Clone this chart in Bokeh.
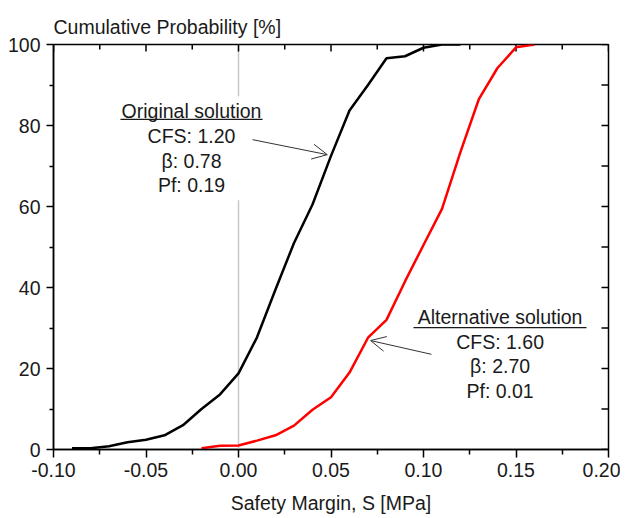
from bokeh.plotting import figure
from bokeh.models import (Range1d, LinearAxis, FixedTicker, NumeralTickFormatter,
                          Span, Label, Arrow, OpenHead)
from bokeh.embed import file_html
from bokeh.resources import INLINE

# ---- data ----
orig_x = [-0.09, -0.08, -0.07, -0.06, -0.05, -0.04, -0.03, -0.02, -0.01, 0.00, 0.01,
          0.02, 0.03, 0.04, 0.05, 0.06, 0.07, 0.08, 0.09, 0.10, 0.11, 0.12]
orig_y = [0.3, 0.3, 0.8, 1.8, 2.4, 3.5, 6.0, 10.0, 13.6, 18.8, 27.7,
          39.5, 51.0, 60.5, 72.5, 83.7, 90.0, 96.6, 97.1, 99.2, 100.0, 100.0]

alt_x = [-0.02, -0.01, 0.00, 0.01, 0.02, 0.03, 0.04, 0.05, 0.06, 0.07, 0.08,
         0.09, 0.10, 0.11, 0.12, 0.13, 0.14, 0.15, 0.16]
alt_y = [0.3, 0.9, 1.0, 2.2, 3.5, 5.9, 9.8, 12.9, 19.0, 27.6, 32.0,
         41.5, 50.5, 59.4, 73.5, 86.6, 94.2, 99.3, 100.0]

x_ticks = [-0.10, -0.05, 0.00, 0.05, 0.10, 0.15, 0.20]
x_minor = [-0.075, -0.025, 0.025, 0.075, 0.125, 0.175]
y_ticks = [0, 20, 40, 60, 80, 100]
y_minor = [10, 30, 50, 70, 90]

orig_text = "Original solution\nCFS: 1.20\nβ: 0.78\nPf: 0.19"
alt_text = "Alternative solution\nCFS: 1.60\nβ: 2.70\nPf: 0.01"

FONT = "Liberation Sans"
FS = "19.5px"
TXT = "#1a1a1a"

X0, X1, Y0, Y1 = -0.10, 0.20, 0, 100
FRAME_W, FRAME_H = 555, 405   # frame size in px (for tick lengths)

p = figure(width=620, height=518, output_backend="svg", toolbar_location=None,
           x_range=Range1d(X0, X1), y_range=Range1d(Y0, Y1),
           min_border_left=53, min_border_right=12, min_border_top=44,
           min_border_bottom=69, x_axis_type=None, y_axis_type=None)
p.outline_line_color = "black"
p.outline_line_width = 1.5
p.background_fill_color = "white"
p.border_fill_color = "white"

p.title.text = "Cumulative Probability [%]"
p.title.align = "left"
p.title.text_font = FONT
p.title.text_font_size = FS
p.title.text_font_style = "normal"
p.title.text_color = TXT
p.title.offset = 0
p.title.standoff = 13

xt = FixedTicker(ticks=x_ticks, minor_ticks=x_minor)
yt = FixedTicker(ticks=y_ticks, minor_ticks=y_minor)


def style(ax, tout, min_out):
    ax.axis_line_color = "black"
    ax.axis_line_width = 1.5
    ax.major_tick_line_color = "black"
    ax.minor_tick_line_color = "black"
    ax.major_tick_line_width = 1.5
    ax.minor_tick_line_width = 1.5
    ax.major_tick_in = 0
    ax.major_tick_out = tout
    ax.minor_tick_in = 0
    ax.minor_tick_out = min_out
    ax.major_label_text_font = FONT
    ax.major_label_text_font_size = FS
    ax.major_label_text_color = TXT


xb = LinearAxis(ticker=xt, formatter=NumeralTickFormatter(format="0.00"),
                axis_label="Safety Margin, S [MPa]")
style(xb, 8, 5)
xb.major_label_standoff = 5
xb.axis_label_text_font = FONT
xb.axis_label_text_font_size = FS
xb.axis_label_text_font_style = "normal"
xb.axis_label_text_color = TXT
xb.axis_label_standoff = 12
p.add_layout(xb, "below")

yl = LinearAxis(ticker=yt)
style(yl, 7, 4)
yl.major_label_standoff = 6
p.add_layout(yl, "left")

# mirror ticks (inward) on the top and right frame edges
dy_maj = 7 * (Y1 - Y0) / FRAME_H
dy_min = 5 * (Y1 - Y0) / FRAME_H
dx_tick = 7 * (X1 - X0) / FRAME_W
p.segment(x0=x_ticks, y0=[Y1] * len(x_ticks), x1=x_ticks,
          y1=[Y1 - dy_maj] * len(x_ticks), line_color="black", line_width=1.5)
p.segment(x0=x_minor, y0=[Y1] * len(x_minor), x1=x_minor,
          y1=[Y1 - dy_min] * len(x_minor), line_color="black", line_width=1.5)
ry = y_ticks + y_minor
p.segment(x0=[X1] * len(ry), y0=ry, x1=[X1 - dx_tick] * len(ry), y1=ry,
          line_color="black", line_width=1.5)

# zero reference line
p.add_layout(Span(location=0, dimension="height", line_color="#c8c8c8",
                  line_width=1.5, level="underlay"))

# annotation blocks with white background
lab1 = Label(x=-0.0254, y=87.2, text=orig_text, text_align="center",
             text_baseline="top", text_font=FONT, text_font_size=FS,
             text_color=TXT, text_line_height=1.12,
             background_fill_color="white", padding=4, level="underlay")
lab2 = Label(x=0.1414, y=36.4, text=alt_text, text_align="center",
             text_baseline="top", text_font=FONT, text_font_size=FS,
             text_color=TXT, text_line_height=1.12,
             background_fill_color="white", padding=4, level="underlay")
p.add_layout(lab1)
p.add_layout(lab2)

# underlines
p.segment(x0=[-0.0638, 0.0946], y0=[81.5, 30.1], x1=[0.0130, 0.1881],
          y1=[81.5, 30.1], line_color=TXT, line_width=1.2)

# curves
p.line(orig_x, orig_y, line_color="black", line_width=2.5)
p.line(alt_x, alt_y, line_color="#ff0000", line_width=2.5)

# arrows
p.add_layout(Arrow(end=OpenHead(size=15, line_color="#333333", line_width=1),
                   x_start=0.0076, y_start=76.5, x_end=0.048, y_end=72.8,
                   line_color="#333333", line_width=1))
p.add_layout(Arrow(end=OpenHead(size=15, line_color="#333333", line_width=1),
                   x_start=0.1043, y_start=23.5, x_end=0.0714, y_end=26.9,
                   line_color="#333333", line_width=1))

open("out.html", "w").write(file_html(p, INLINE))
